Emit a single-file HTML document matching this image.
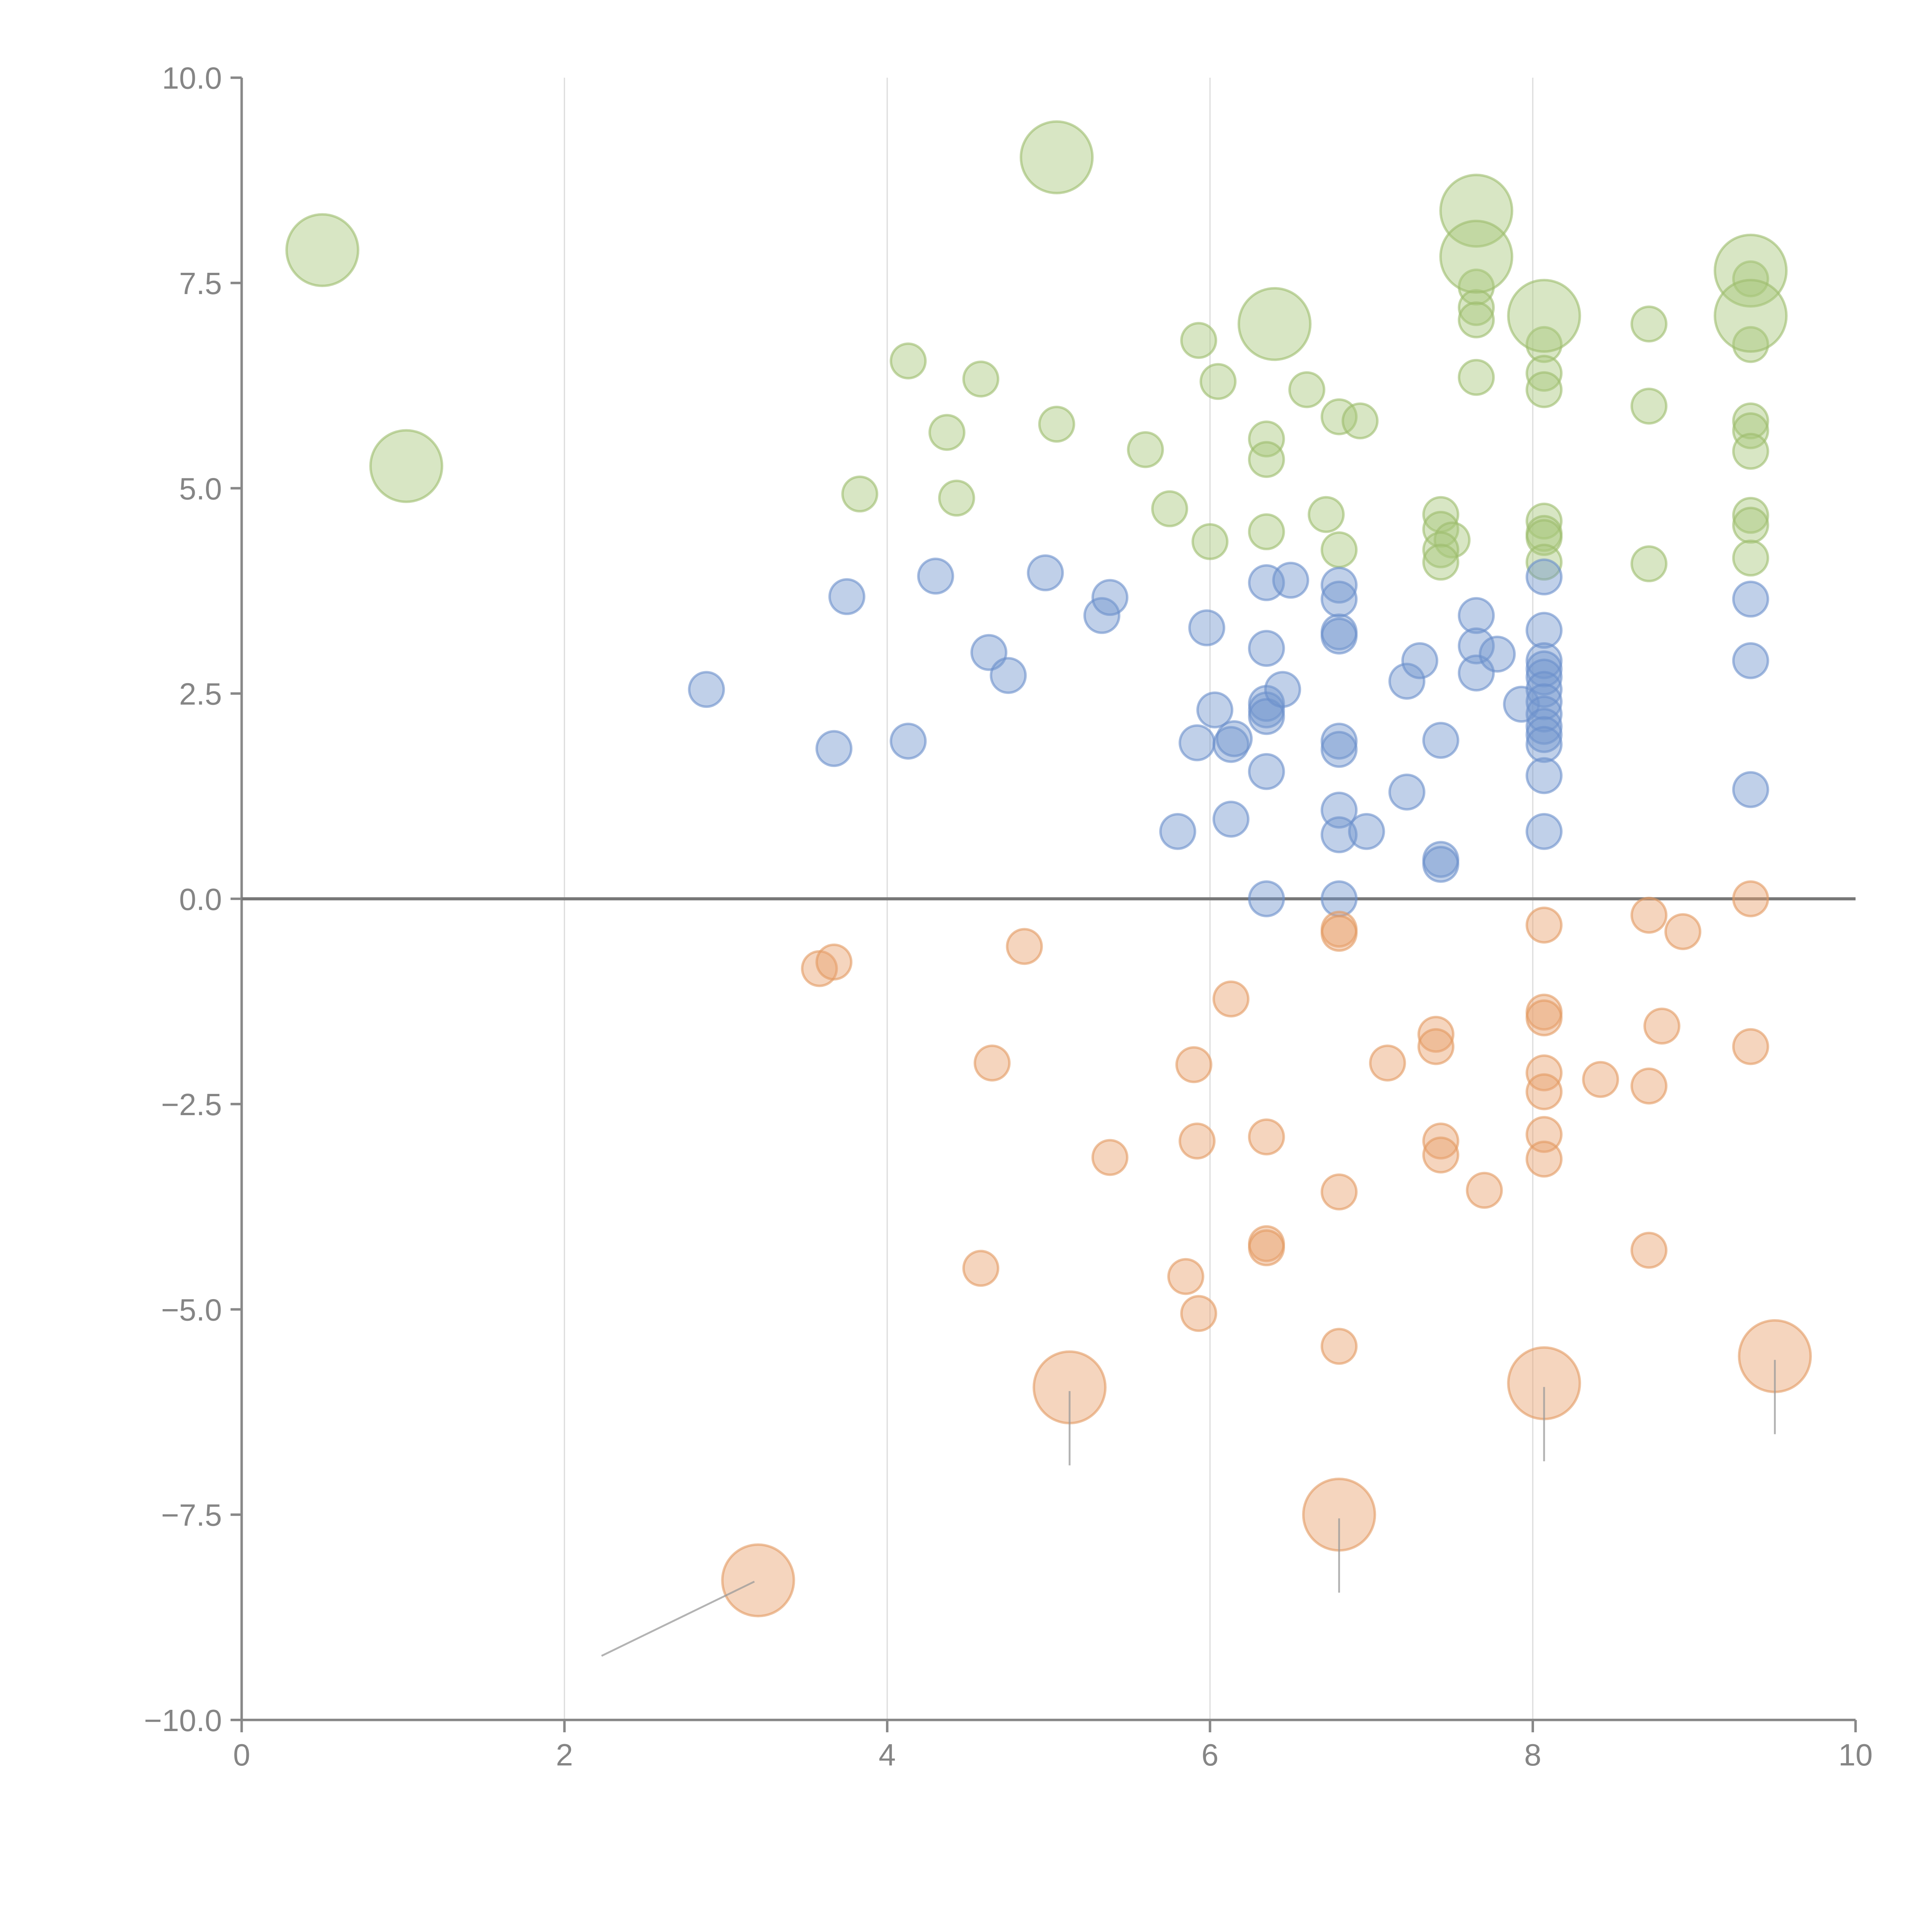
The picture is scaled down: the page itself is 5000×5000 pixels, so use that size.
<!DOCTYPE html>
<html><head><meta charset="utf-8"><style>
html,body{margin:0;padding:0;background:#fff}
svg{display:block}
text{font-family:"Liberation Sans",Arial,sans-serif;fill:#858585;font-size:25px}
</style></head><body>
<svg id="chart" width="5000" height="5000" viewBox="0 0 1567 1567" xmlns="http://www.w3.org/2000/svg">
<g id="grid"></g>
<g id="axes"></g>
<g id="leaders"></g>
<g id="marks"></g>
</svg>
<script>
const xTicks=[0,2,4,6,8,10];
const yTicks=[10,7.5,5,2.5,0,-2.5,-5,-7.5,-10];
const yTickLabels=["10.0","7.5","5.0","2.5","0.0","\u22122.5","\u22125.0","\u22127.5","\u221210.0"];
const greenBig=[[0.5,7.9],[1.02,5.27],[5.05,9.03],[7.65,8.38],[7.65,7.82],[6.4,7.0],[8.07,7.1],[9.35,7.65],[9.35,7.1]];
const orangeBig=[[3.2,-8.3],[5.13,-5.95],[6.8,-7.5],[8.07,-5.9],[9.5,-5.57]];
const orangeLeaderEnds=[[2.23,-9.22],[5.13,-6.9],[6.8,-8.45],[8.07,-6.85],[9.5,-6.52]];
const greenSmall=[[4.13,6.55],[4.58,6.33],[4.37,5.68],[5.05,5.78],[3.83,4.93],[4.43,4.88],[5.93,6.8],[6.05,6.3],[5.6,5.47],[5.75,4.75],[6.6,6.2],[6.8,5.87],[6.93,5.82],[6.35,5.6],[6.35,5.35],[6.35,4.47],[6.72,4.68],[6.8,4.25],[7.43,4.68],[7.43,4.5],[7.5,4.37],[7.43,4.25],[7.43,4.1],[7.65,7.45],[7.65,7.2],[7.65,7.05],[7.65,6.35],[8.07,6.75],[8.07,6.4],[8.07,6.2],[8.07,4.6],[8.07,4.45],[8.07,4.4],[8.07,4.1],[8.72,7.0],[8.72,6.0],[8.72,4.08],[9.35,7.55],[9.35,6.75],[9.35,5.82],[9.35,5.7],[9.35,5.45],[9.35,4.67],[9.35,4.55],[9.35,4.15],[6.0,4.35]];
const blueSmall=[[2.88,2.55],[3.67,1.83],[3.75,3.68],[4.13,1.92],[4.3,3.93],[4.63,3.0],[4.75,2.72],[4.98,3.97],[5.33,3.45],[5.38,3.67],[5.8,0.82],[5.92,1.9],[5.98,3.3],[6.03,2.3],[6.13,0.97],[6.13,1.88],[6.15,1.95],[6.35,3.85],[6.35,3.05],[6.35,2.38],[6.35,2.3],[6.35,2.22],[6.35,1.55],[6.35,0.0],[6.45,2.55],[6.5,3.88],[6.8,3.82],[6.8,3.65],[6.8,3.25],[6.8,3.2],[6.8,1.92],[6.8,1.82],[6.8,1.08],[6.8,0.78],[6.8,0.0],[6.97,0.82],[7.22,2.65],[7.3,2.9],[7.22,1.3],[7.43,1.93],[7.43,0.48],[7.43,0.42],[7.65,3.45],[7.65,3.08],[7.65,2.75],[7.78,2.98],[7.93,2.37],[8.07,3.92],[8.07,3.27],[8.07,2.9],[8.07,2.8],[8.07,2.7],[8.07,2.55],[8.07,2.4],[8.07,2.25],[8.07,2.1],[8.07,2.0],[8.07,1.88],[8.07,1.5],[8.07,0.82],[9.35,3.65],[9.35,2.9],[9.35,1.33]];
const orangeSmall=[[3.58,-0.85],[3.67,-0.77],[4.85,-0.58],[4.65,-2.0],[4.58,-4.5],[5.38,-3.15],[5.85,-4.6],[5.9,-2.02],[5.92,-2.95],[5.93,-5.05],[6.13,-1.22],[6.35,-2.9],[6.35,-4.2],[6.35,-4.25],[6.8,-0.37],[6.8,-0.42],[6.8,-3.57],[6.8,-5.45],[7.1,-2.0],[7.4,-1.65],[7.4,-1.8],[7.43,-2.95],[7.43,-3.12],[7.7,-3.55],[8.07,-0.32],[8.07,-1.38],[8.07,-1.45],[8.07,-2.12],[8.07,-2.35],[8.07,-2.87],[8.07,-3.17],[8.42,-2.2],[8.72,-0.2],[8.93,-0.4],[8.8,-1.55],[8.72,-2.28],[8.72,-4.28],[9.35,0.0],[9.35,-1.8]];

const X0=196,X1=1505,Y0=1395,Y1=63;
const sx=v=>X0+(v-0)/(10-0)*(X1-X0);
const sy=v=>Y0-(v+10)/20*(Y0-Y1);
const NS="http://www.w3.org/2000/svg";
function mk(tag,attrs,parent){const e=document.createElementNS(NS,tag);for(const k in attrs)e.setAttribute(k,attrs[k]);parent.appendChild(e);return e;}
const grid=document.getElementById('grid'),axes=document.getElementById('axes'),marks=document.getElementById('marks'),leaders=document.getElementById('leaders');
xTicks.forEach(t=>{
  if(t>0&&t<10){const l=mk('line',{x1:sx(t),x2:sx(t),y1:Y1,y2:Y0,stroke:'#ddd','stroke-width':1},grid);
  
  }
  const tk=mk('line',{x1:sx(t),x2:sx(t),y1:Y0,y2:Y0+10,stroke:'#888','stroke-width':2},axes);
  
  
  const tx=mk('text',{x:sx(t),y:Y0+37,'text-anchor':'middle'},axes);tx.textContent=t;
  
  
});
yTicks.forEach((t,i)=>{
  const tk=mk('line',{x1:X0-9,x2:X0,y1:sy(t),y2:sy(t),stroke:'#888','stroke-width':2},axes);
  
  
  const tx=mk('text',{x:X0-16,y:sy(t)+9,'text-anchor':'end'},axes);tx.textContent=yTickLabels[i];
  
  
});
let a=mk('line',{x1:X0,x2:X0,y1:Y1,y2:Y0,stroke:'#888','stroke-width':2},axes);


a=mk('line',{x1:X0,x2:X1,y1:Y0,y2:Y0,stroke:'#888','stroke-width':2},axes);


a=mk('line',{x1:X0,x2:X1,y1:sy(0),y2:sy(0),stroke:'#777','stroke-width':2.5},axes);



function draw(arr,r,fill,stroke,name){
  arr.forEach(p=>{const c=mk('circle',{cx:sx(p[0]),cy:sy(p[1]),r:r,fill:fill,'fill-opacity':0.45,stroke:stroke,'stroke-opacity':0.6,'stroke-width':2},marks);
  
  });
}
draw(greenSmall,14,'#a9c77d','#9dbd6c','green-bubble');
draw(blueSmall,14,'#7396cf','#6b8fcc','blue-bubble');
draw(orangeSmall,14,'#e8a26f','#e29a60','orange-bubble');
draw(greenBig,29,'#a9c77d','#9dbd6c','green-large-bubble');
draw(orangeBig,29,'#e8a26f','#e29a60','orange-large-bubble');
orangeBig.forEach((p,i)=>{const e=orangeLeaderEnds[i];
  const l=mk('line',{x1:sx(p[0])-(i==0?3:0),y1:sy(p[1])+(i==0?1:3),x2:sx(e[0]),y2:sy(e[1]),stroke:'#999','stroke-opacity':0.75,'stroke-width':1.5},marks);
  
  });
</script>
</body></html>
